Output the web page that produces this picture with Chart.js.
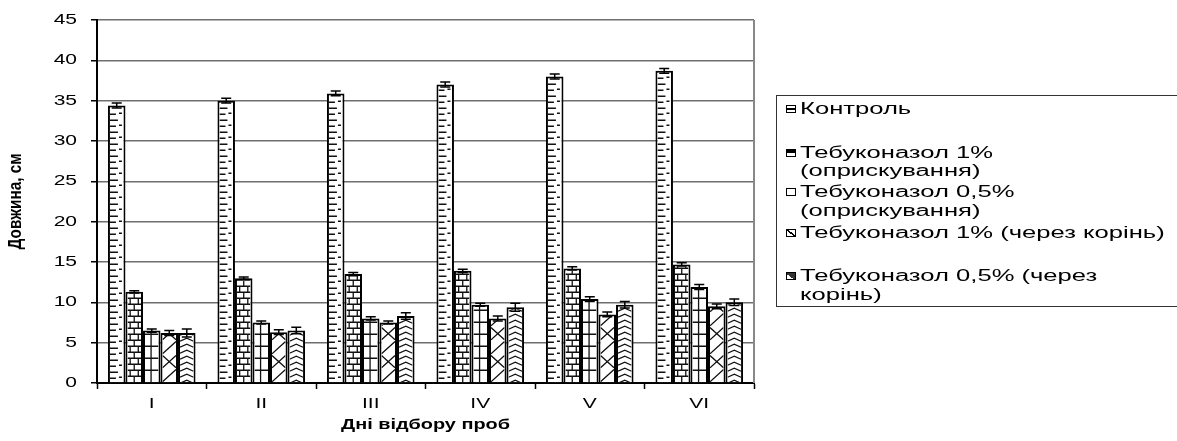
<!DOCTYPE html>
<html><head><meta charset="utf-8">
<script src="https://cdn.jsdelivr.net/npm/chart.js@4/dist/chart.umd.min.js"></script>
<style>
html,body{margin:0;padding:0;background:#fff;overflow:hidden;}
#wrap{position:absolute;left:0;top:0;width:1177px;height:441px;}
#legend{position:absolute;left:776px;top:95px;width:430px;height:212px;border:1.5px solid #333;box-sizing:border-box;font-family:"Liberation Sans",Arial,sans-serif;font-size:16px;color:#000;overflow:visible;}
.sw{position:absolute;left:9px;width:10px;height:8px;border:1.5px solid #000;box-sizing:border-box;background:#fff}
.tx{position:absolute;left:23px;white-space:nowrap;transform-origin:0 50%;transform:scaleX(1.6);line-height:18px;height:18px;}
</style>
</head><body>
<div id="wrap"><canvas id="c"></canvas></div>
<div id="legend"></div>
<script>
// ---- data ----
const categories = ['I', 'II', 'III', 'IV', 'V', 'VI'];
const seriesNames = [
  'Контроль',
  'Тебуконазол 1% (оприскування)',
  'Тебуконазол 0,5% (оприскування)',
  'Тебуконазол 1% (через корінь)',
  'Тебуконазол 0,5% (через корінь)'
];
const legendLines = [
  ['Контроль'],
  ['Тебуконазол 1%', '(оприскування)'],
  ['Тебуконазол 0,5%', '(оприскування)'],
  ['Тебуконазол 1% (через корінь)'],
  ['Тебуконазол 0,5% (через', 'корінь)']
];
const control      = [34.4, 35.0, 35.9, 37.0, 38.0, 38.7];
const teb1Spray    = [11.3, 13.0, 13.5, 13.9, 14.2, 14.7];
const teb05Spray   = [6.5, 7.5, 8.0, 9.7, 10.4, 11.9];
const teb1Root     = [6.2, 6.3, 7.5, 8.0, 8.5, 9.5];
const teb05Root    = [6.2, 6.5, 8.3, 9.4, 9.7, 10.0];
const controlErr   = [0.3, 0.3, 0.3, 0.3, 0.3, 0.3];
const teb1SprayErr = [0.15, 0.15, 0.2, 0.2, 0.2, 0.2];
const teb05SprayErr= [0.2, 0.2, 0.2, 0.2, 0.3, 0.3];
const teb1RootErr  = [0.3, 0.3, 0.2, 0.3, 0.3, 0.3];
const teb05RootErr = [0.5, 0.4, 0.4, 0.5, 0.4, 0.4];
const yTickValues = [0, 5, 10, 15, 20, 25, 30, 35, 40, 45];
const yTickLabels = ['0', '5', '10', '15', '20', '25', '30', '35', '40', '45'];
const xTitle = 'Дні відбору проб';
const yTitle = 'Довжина, см';

const seriesValues = [control, teb1Spray, teb05Spray, teb1Root, teb05Root];
const seriesErrors = [controlErr, teb1SprayErr, teb05SprayErr, teb1RootErr, teb05RootErr];

// ---- legend (HTML) ----
const legendEl = document.getElementById('legend');
const lineCenters = [[13], [57, 75], [96, 115], [137], [180, 199]];
const swatchBg = [
  'linear-gradient(#fff 35%, #000 35%, #000 60%, #fff 60%)',
  'linear-gradient(#000 50%, #fff 50%)',
  '#fff',
  'linear-gradient(to top right, #fff 42%, #000 42%, #000 58%, #fff 58%)',
  'linear-gradient(to top right, #fff 40%, #333 40%)'
];
legendLines.forEach((lines, i) => {
  const sw = document.createElement('div');
  sw.className = 'sw';
  sw.style.top = (lineCenters[i][0] - 4) + 'px';
  sw.style.background = swatchBg[i];
  legendEl.appendChild(sw);
  lines.forEach((t, j) => {
    const d = document.createElement('div');
    d.className = 'tx';
    d.style.top = (lineCenters[i][j] - 9) + 'px';
    d.textContent = t;
    legendEl.appendChild(d);
  });
});

// ---- fill patterns drawn inside each bar ----
function drawPattern(ctx, idx, l, r, t, b) {
  const w = r - l;
  ctx.beginPath();
  if (idx === 0) {
    let k = 0;
    for (let y = b - 4; y > t + 1; y -= 6, k++) {
      ctx.moveTo(l, y); ctx.lineTo(l + (k % 2 ? 8 : 6), y);
      if (k % 2 === 0) { ctx.moveTo(l + 9, y - 1); ctx.lineTo(l + 12, y - 1); }
    }
  } else if (idx === 1) {
    let k = 0;
    for (let y = b - 6; y > t; y -= 6, k++) {
      ctx.moveTo(l, y); ctx.lineTo(r, y);
    }
    k = 0;
    for (let y = b; y > t; y -= 6, k++) {
      const y2 = Math.max(t, y - 6);
      if (k % 2 === 0) { ctx.moveTo(l + w * 0.5, y); ctx.lineTo(l + w * 0.5, y2); }
      else { ctx.moveTo(l + w * 0.2, y); ctx.lineTo(l + w * 0.2, y2); ctx.moveTo(l + w * 0.8, y); ctx.lineTo(l + w * 0.8, y2); }
    }
  } else if (idx === 2) {
    for (let y = b - 12; y > t; y -= 12) { ctx.moveTo(l, y); ctx.lineTo(r, y); }
    ctx.moveTo(l + w * 0.45, b); ctx.lineTo(l + w * 0.45, t);
  } else if (idx === 3) {
    for (let y = b + w; y > t - w; y -= 14) {
      ctx.moveTo(l, y); ctx.lineTo(r, y - w * 0.9);
    }
    for (let y = b + w; y > t - w; y -= 28) {
      ctx.moveTo(l, y - w * 0.9); ctx.lineTo(r, y);
    }
  } else if (idx === 4) {
    const mid = l + w / 2;
    for (let y = b - 2; y > t - 4; y -= 6) {
      ctx.moveTo(l, y + 3); ctx.lineTo(mid, y); ctx.lineTo(r, y + 3);
    }
  }
  ctx.stroke();
}

const patternPlugin = {
  id: 'patterns',
  afterDatasetsDraw(chart) {
    const ctx = chart.ctx;
    const yScale = chart.scales.y;
    chart.data.datasets.forEach((ds, i) => {
      const meta = chart.getDatasetMeta(i);
      meta.data.forEach((bar, j) => {
        const p = bar.getProps(['x', 'y', 'base', 'width'], true);
        const l = p.x - p.width / 2 + 2, r = p.x + p.width / 2 - 2;
        const t = p.y + 2, b = p.base;
        ctx.save();
        ctx.beginPath(); ctx.rect(l, t, r - l, b - t); ctx.clip();
        ctx.strokeStyle = '#111'; ctx.lineWidth = 1.3;
        drawPattern(ctx, i, l, r, t, b);
        ctx.restore();
        // error bar
        const err = seriesErrors[i][j];
        const v = seriesValues[i][j];
        const yt = yScale.getPixelForValue(v + err), yb = yScale.getPixelForValue(v - err);
        ctx.save();
        ctx.strokeStyle = '#000'; ctx.lineWidth = 1.5;
        ctx.beginPath();
        ctx.moveTo(p.x, yt); ctx.lineTo(p.x, yb);
        ctx.moveTo(p.x - 5, yt); ctx.lineTo(p.x + 5, yt);
        ctx.moveTo(p.x - 5, yb); ctx.lineTo(p.x + 5, yb);
        ctx.stroke();
        ctx.restore();
      });
    });
  }
};

function stretchedText(ctx, text, x, y, font, sx, align) {
  ctx.save();
  ctx.font = font; ctx.fillStyle = '#000';
  ctx.textAlign = align; ctx.textBaseline = 'middle';
  ctx.translate(x, y); ctx.scale(sx, 1);
  ctx.fillText(text, 0, 0);
  ctx.restore();
}

const textPlugin = {
  id: 'texts',
  afterDraw(chart) {
    const ctx = chart.ctx;
    const ca = chart.chartArea;
    const xs = chart.scales.x, ys = chart.scales.y;
    // right border of plot area
    ctx.save();
    ctx.strokeStyle = '#888'; ctx.lineWidth = 2;
    ctx.beginPath(); ctx.moveTo(ca.right, ca.top); ctx.lineTo(ca.right, ca.bottom); ctx.stroke();
    ctx.restore();
    yTickValues.forEach((v, i) => {
      stretchedText(ctx, yTickLabels[i], 77, ys.getPixelForValue(v), '14px "Liberation Sans", Arial, sans-serif', 1.5, 'right');
    });
    categories.forEach((c, i) => {
      stretchedText(ctx, c, xs.getPixelForValue(i), 404, '15px "Liberation Sans", Arial, sans-serif', 1.4, 'center');
    });
    stretchedText(ctx, xTitle, (ca.left + ca.right) / 2, 425, 'bold 14px "Liberation Sans", Arial, sans-serif', 1.42, 'center');
    ctx.save();
    ctx.font = 'bold 18px "Liberation Sans", Arial, sans-serif';
    ctx.fillStyle = '#000'; ctx.textAlign = 'center'; ctx.textBaseline = 'middle';
    ctx.translate(16, (ca.top + ca.bottom) / 2);
    ctx.rotate(-Math.PI / 2);
    ctx.scale(0.85, 1);
    ctx.fillText(yTitle, 0, 0);
    ctx.restore();
  }
};

Chart.defaults.font.family = '"Liberation Sans", Arial, sans-serif';
new Chart(document.getElementById('c'), {
  type: 'bar',
  data: {
    labels: categories,
    datasets: seriesValues.map((vals, i) => ({
      label: seriesNames[i],
      data: vals,
      backgroundColor: '#fff',
      borderColor: '#000',
      borderWidth: 2,
      categoryPercentage: 0.8,
      barPercentage: 1.0
    }))
  },
  options: {
    responsive: true,
    maintainAspectRatio: false,
    animation: false,
    layout: { padding: { left: 0, top: 20, right: 423, bottom: 0 } },
    plugins: { legend: { display: false }, tooltip: { enabled: false } },
    scales: {
      x: {
        offset: true,
        grid: { display: true, drawOnChartArea: false, drawTicks: true, tickLength: 6, tickColor: '#000', tickWidth: 1.5, offset: true },
        border: { display: true, color: '#000', width: 2 },
        ticks: { display: false },
        afterFit(s) { s.height = 58; }
      },
      y: {
        min: 0, max: 45,
        ticks: { display: false, stepSize: 5 },
        grid: { color: '#6f6f6f', lineWidth: 1.5, drawTicks: true, tickLength: 6, tickColor: '#000', tickWidth: 1.5 },
        border: { display: true, color: '#000', width: 2 },
        afterFit(s) { s.width = 97; }
      }
    }
  },
  plugins: [patternPlugin, textPlugin]
});
</script>
</body></html>
